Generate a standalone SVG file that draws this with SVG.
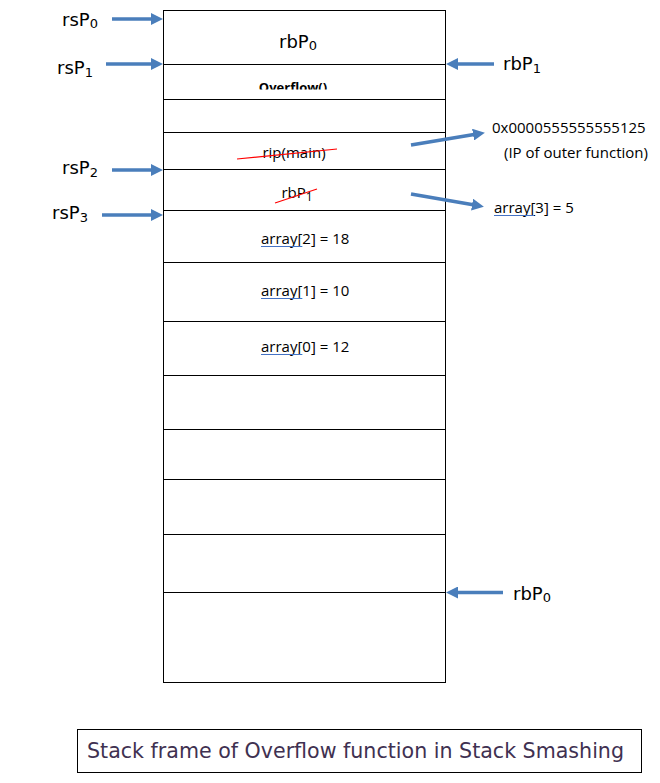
<svg xmlns="http://www.w3.org/2000/svg" width="660" height="783" viewBox="0 0 660 783">
<style>
.cell{fill:#ffffff;stroke:#000000;stroke-width:1}
.row{stroke:#000000;stroke-width:1}
.ptr{font-family:"DejaVu Sans","Liberation Sans",sans-serif;font-size:18px;fill:#000000}
.sub{font-size:13px}
.txt{font-family:"Open Sans","Liberation Sans",sans-serif;font-size:15px;fill:#000000}
.arr{stroke:#4A7EBB;stroke-width:3.5;fill:none;marker-end:url(#ah)}
.strike{stroke:#FF0000;stroke-width:1.2}
.ul{stroke:#4472C4;stroke-width:1.2}
</style>
<defs>
<marker id="ah" viewBox="0 0 12 12" markerWidth="12" markerHeight="12" markerUnits="userSpaceOnUse" refX="4" refY="6" orient="auto">
<path d="M0,0 L12,6 L0,12 z" fill="#4A7EBB"/>
</marker>
<clipPath id="clipOv"><rect x="164" y="65" width="281" height="24.5"/></clipPath>
</defs>
<rect width="660" height="783" fill="#ffffff"/>

<g id="stack">
<rect class="cell" x="163.5" y="10.5" width="282" height="672"/>
<line class="row" x1="163.5" y1="64.5" x2="445.5" y2="64.5"/>
<line class="row" x1="163.5" y1="99.5" x2="445.5" y2="99.5"/>
<line class="row" x1="163.5" y1="132.5" x2="445.5" y2="132.5"/>
<line class="row" x1="163.5" y1="169.5" x2="445.5" y2="169.5"/>
<line class="row" x1="163.5" y1="210.5" x2="445.5" y2="210.5"/>
<line class="row" x1="163.5" y1="262.5" x2="445.5" y2="262.5"/>
<line class="row" x1="163.5" y1="321.5" x2="445.5" y2="321.5"/>
<line class="row" x1="163.5" y1="375.5" x2="445.5" y2="375.5"/>
<line class="row" x1="163.5" y1="429.5" x2="445.5" y2="429.5"/>
<line class="row" x1="163.5" y1="479.5" x2="445.5" y2="479.5"/>
<line class="row" x1="163.5" y1="534.5" x2="445.5" y2="534.5"/>
<line class="row" x1="163.5" y1="592.5" x2="445.5" y2="592.5"/>
</g>

<g id="cell-rbP0">
<text class="ptr" x="298" y="48" text-anchor="middle" font-size="20">rbP<tspan class="sub" font-size="15" dy="2">0</tspan></text>
</g>
<g id="cell-overflow" clip-path="url(#clipOv)">
<text x="293" y="92" text-anchor="middle" font-family="'Open Sans','Liberation Sans',sans-serif" font-size="13" font-weight="bold">Overflow()</text>
</g>
<g id="cell-rip">
<text class="txt" x="294" y="158" text-anchor="middle">rip(main)</text>
<line class="strike" x1="237" y1="159" x2="337" y2="149"/>
</g>
<g id="cell-rbP1">
<text class="txt" x="297" y="198" text-anchor="middle" font-size="15">rbP<tspan font-size="12" dy="3">1</tspan></text>
<line class="strike" x1="275" y1="203" x2="317" y2="189"/>
</g>
<g id="cell-a2">
<text class="txt" x="261" y="244">array[2] = 18</text>
<line class="ul" x1="261" y1="246.5" x2="302" y2="246.5"/>
</g>
<g id="cell-a1">
<text class="txt" x="261" y="296">array[1] = 10</text>
<line class="ul" x1="261" y1="298.5" x2="302" y2="298.5"/>
</g>
<g id="cell-a0">
<text class="txt" x="261" y="352">array[0] = 12</text>
<line class="ul" x1="261" y1="354.5" x2="302" y2="354.5"/>
</g>

<g id="label-rsP0"><text class="ptr" x="62" y="26">rsP<tspan class="sub" dy="2">0</tspan></text></g>
<g id="label-rsP1"><text class="ptr" x="57" y="74">rsP<tspan class="sub" dy="3">1</tspan></text></g>
<g id="label-rsP2"><text class="ptr" x="62" y="174">rsP<tspan class="sub" dy="3">2</tspan></text></g>
<g id="label-rsP3"><text class="ptr" x="52" y="219">rsP<tspan class="sub" dy="3">3</tspan></text></g>
<g id="label-rbP1"><text class="ptr" x="503" y="70">rbP<tspan class="sub" dy="3">1</tspan></text></g>
<g id="label-rbP0"><text class="ptr" x="513" y="600">rbP<tspan class="sub" dy="2">0</tspan></text></g>
<g id="label-ip">
<text class="txt" x="492" y="133">0x0000555555555125</text>
<text class="txt" x="504" y="158">(IP of outer function)</text>
</g>
<g id="label-a3">
<text class="txt" x="494" y="213">array[3] = 5</text>
<line class="ul" x1="494" y1="215.5" x2="534" y2="215.5"/>
</g>

<g id="connectors">
<line class="arr" x1="112" y1="19" x2="155" y2="19"/>
<line class="arr" x1="106" y1="64" x2="155" y2="64"/>
<line class="arr" x1="112" y1="170" x2="155" y2="170"/>
<line class="arr" x1="102" y1="215" x2="155" y2="215"/>
<line class="arr" x1="494" y1="64" x2="454" y2="64"/>
<line class="arr" x1="503" y1="592.5" x2="454" y2="592.5"/>
<line class="arr" x1="411" y1="145" x2="477" y2="134"/>
<line class="arr" x1="411" y1="194" x2="476" y2="205.3"/>
</g>

<g id="caption">
<rect x="77.5" y="729.5" width="564" height="43" fill="#ffffff" stroke="#000000" stroke-width="1"/>
<text x="87" y="758" font-family="'DejaVu Sans','Liberation Sans',sans-serif" font-size="21" fill="#3F3151" textLength="537" lengthAdjust="spacingAndGlyphs">Stack frame of Overflow function in Stack Smashing</text>
</g>
</svg>
